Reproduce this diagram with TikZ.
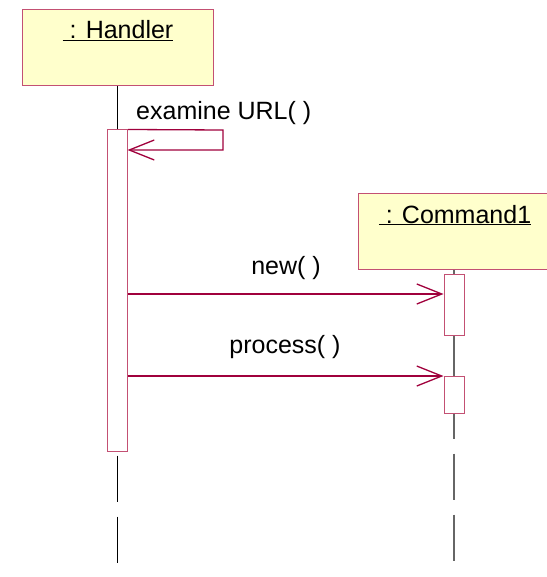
\documentclass[tikz,border=0pt]{standalone}
\usepackage{fontspec}
\setmainfont{Liberation Sans}
\usetikzlibrary{arrows.meta}
\definecolor{umlred}{RGB}{160,0,60}
\definecolor{umlpink}{RGB}{195,80,115}
\definecolor{umlfill}{RGB}{255,255,204}

\begin{document}
\begin{tikzpicture}[x=1pt, y=-1pt,
	obj/.style={draw=umlpink, fill=umlfill, line width=1pt, minimum width=191pt, minimum height=76pt, inner sep=0pt},
	objname/.style={anchor=base, inner sep=0pt, font=\fontsize{25}{30}\selectfont},
	msgname/.style={anchor=base, inner sep=0pt, font=\fontsize{25}{30}\selectfont},
	act/.style={draw=umlpink, fill=white, line width=1pt, minimum width=20pt, inner sep=0pt},
	msg/.style={draw=umlred, line width=1.3pt, -{Straight Barb[length=25pt, width=20pt, line width=1.3pt]}},
	life/.style={line width=1pt, black},
	cmdlife/.style={line width=1.2pt, black!60}]
	\useasboundingbox (0,0) rectangle (546,577);
	% objects
	\node[obj] (handler) at (117.5,48) {};
	\node[objname] (handlername) at (118,39) {\underline{\ : Handler}};
	\node[obj] (cmd) at (454,231.5) {};
	\node[objname] (cmdname) at (455,223) {\underline{\ : Command1}};
	% activations
	\node[act, minimum height=321pt] (hact) at (117.5,290.5) {};
	\node[act, minimum height=61pt] (cact1) at (454,304.5) {};
	\node[act, minimum height=37pt] (cact2) at (454,394.5) {};
	% lifelines
	\coordinate (hend) at (117.5,563);
	\coordinate (cend) at (454,562);
	\draw[life] (handler.south) -- (hact.north);
	\draw[life, dash pattern=on 46pt off 15pt] ([yshift=-4pt]hact.south) -- (hend);
	\draw[cmdlife] (cmd.south) -- (cact1.north);
	\draw[cmdlife] (cact1.south) -- (cact2.north);
	\draw[cmdlife, dash pattern=on 46pt off 15pt, dash phase=21pt] (cact2.south) -- (cend);
	% messages
	\coordinate (selfturn) at (223,130);
	\coordinate (selfback) at (127.5,150);
	\coordinate (newy) at (0,294);
	\coordinate (procy) at (0,376);
	\draw[msg] (hact.north east) -- (selfturn) |- (selfback);
	\draw[msg] (hact.east |- newy) -- (cact1.west |- newy);
	\draw[msg] (hact.east |- procy) -- (cact2.west |- procy);
	\node[msgname, anchor=base west] (selflbl) at (136,120) {examine URL( )};
	\node[msgname] (newlbl) at (286,274) {new( )};
	\node[msgname] (proclbl) at (285,353) {process( )};
\end{tikzpicture}
\end{document}
